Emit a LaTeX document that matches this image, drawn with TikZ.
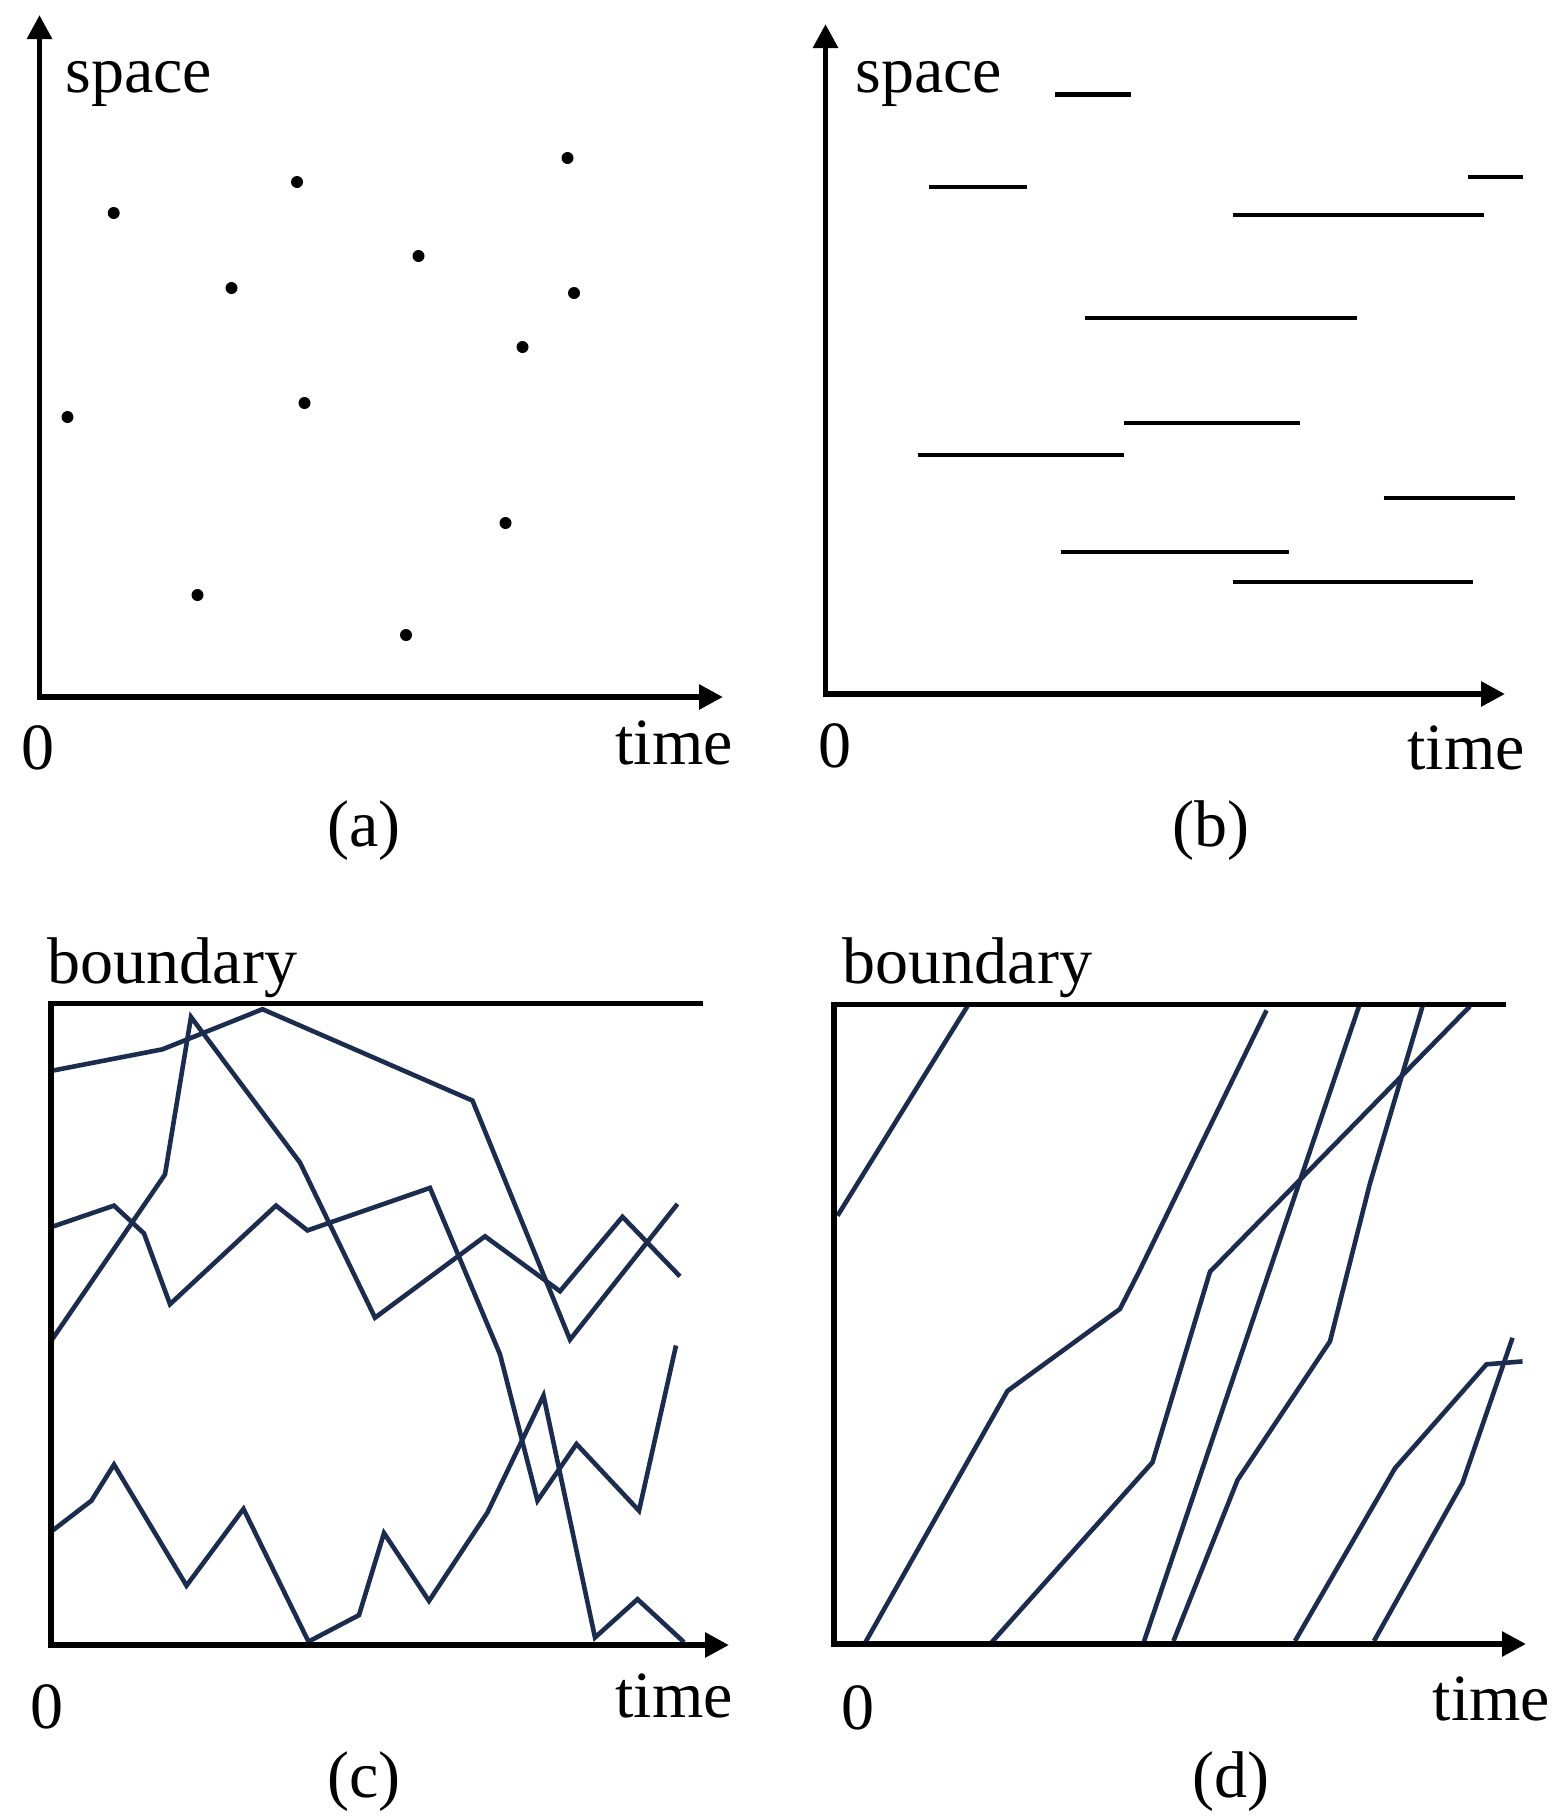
\documentclass[tikz,border=0pt]{standalone}
\usepackage{fontspec}
\setmainfont{Liberation Serif}
\usetikzlibrary{arrows.meta}
\definecolor{lineblue}{RGB}{27,44,78}
\tikzset{
  axisline/.style={draw=black, line width=2.9pt, line join=miter},
  axistip/.style={-{Triangle[length=12pt,width=12pt]}},
  axistips/.style={{Triangle[length=12pt,width=12pt]}-{Triangle[length=12pt,width=12pt]}},
  pathline/.style={draw=lineblue, line width=2.3pt, line join=miter, miter limit=4},
  segline/.style={draw=black, line width=2.35pt},
  event/.style={circle, fill=black, inner sep=0pt, minimum size=6pt},
  lbl/.style={inner sep=0pt, font=\fontsize{33}{40}\selectfont},
}
\begin{document}
\begin{tikzpicture}[x=0.5pt,y=-0.5pt]
\useasboundingbox (0,0) rectangle (1559,1820);
\fill[white] (0,0) rectangle (1559,1820);

% ---------- (a) ----------
\coordinate (aY) at (39.5,15);
\coordinate (aO) at (39.5,697);
\coordinate (aX) at (723,697);
\draw[axisline,axistips] (aY) -- (aO) -- (aX);
\node[lbl,anchor=base west] (aspace) at (65,92) {space};
\node[lbl,anchor=base] (azero) at (37.5,769) {0};
\node[lbl,anchor=base west] (atime) at (615,764) {time};
\node[lbl,anchor=base] (acap) at (364,846) {(a)};
\foreach \x/\y [count=\i] in {113.7/213, 297/182, 567.5/158, 231.5/288, 418.5/256, 574/293,
  522.5/347, 67.5/417, 304.5/403, 505.5/523, 197.5/595, 406/635}
  \node[event] (dot\i) at (\x,\y) {};

% ---------- (b) ----------
\coordinate (bY) at (825.5,24);
\coordinate (bO) at (825.5,694);
\coordinate (bX) at (1505,694);
\draw[axisline,axistips] (bY) -- (bO) -- (bX);
\node[lbl,anchor=base west] (bspace) at (855,92) {space};
\node[lbl,anchor=base] (bzero) at (835,767) {0};
\node[lbl,anchor=base west] (btime) at (1407,769) {time};
\node[lbl,anchor=base] (bcap) at (1211,846) {(b)};
\foreach \xa/\xb/\y [count=\i] in {1055/1130.5/94.3, 928.5/1027/187, 1468/1522.5/177,
  1232.5/1483.5/215, 1084.5/1356.5/318, 1123.5/1299.5/423, 917.5/1124/455,
  1383.5/1514.5/498, 1060.5/1289/552, 1232.5/1472.5/582}
{
  \coordinate (s\i a) at (\xa,\y);
  \coordinate (s\i b) at (\xb,\y);
  \draw[segline] (s\i a) -- (s\i b);
}

% ---------- (c) ----------
\coordinate (cB) at (702.5,1003.5);
\coordinate (cT) at (51,1003.5);
\coordinate (cO) at (51,1645);
\coordinate (cX) at (729,1645);
\node[lbl,anchor=base west] (cbound) at (47.5,983) {boundary};
\node[lbl,anchor=base] (czero) at (47.5,1728) {0};
\node[lbl,anchor=base west] (ctime) at (615,1717) {time};
\node[lbl,anchor=base] (ccap) at (364,1797) {(c)};
\draw[pathline] (50,1071.1) -- (162.5,1049.3) -- (262.5,1009.2) -- (472.5,1100.6)
  -- (570,1339.6) -- (677.5,1203.9);
\draw[pathline] (50,1342.5) -- (165,1174.4) -- (191,1017) -- (300,1162.6)
  -- (375,1317.7) -- (485,1236.3) -- (560,1291.2) -- (622.5,1216.8) -- (680,1276.4);
\draw[pathline] (50,1227.5) -- (114,1205.6) -- (144,1233.4) -- (170,1304.2)
  -- (276,1205.6) -- (307.5,1230.4) -- (430,1187.9) -- (500,1354.3)
  -- (537.5,1500.6) -- (576.5,1444) -- (639,1510.7) -- (676,1345.5);
\draw[pathline] (50,1532.5) -- (91.5,1500.6) -- (114,1464.6) -- (186.5,1585.6)
  -- (243.5,1508.9) -- (308.5,1641.6) -- (359,1615.1) -- (384,1533.1)
  -- (429,1600.9) -- (487.5,1512.4) -- (543.5,1395.6) -- (595,1637.5)
  -- (637.5,1599.2) -- (684,1642.2);
\draw[axisline,axistip] (cB) -- (cT) -- (cO) -- (cX);

% ---------- (d) ----------
\coordinate (dB) at (1506,1004.4);
\coordinate (dT) at (834,1004.4);
\coordinate (dO) at (834,1644);
\coordinate (dX) at (1526,1644);
\node[lbl,anchor=base west] (dbound) at (842.5,983) {boundary};
\node[lbl,anchor=base] (dzero) at (857.5,1729) {0};
\node[lbl,anchor=base west] (dtime) at (1432.5,1720) {time};
\node[lbl,anchor=base] (dcap) at (1231,1797) {(d)};
\draw[pathline] (837.5,1215.7) -- (968.5,1004.4);
\draw[pathline] (865,1643) -- (1007.5,1390.9) -- (1120,1308.9) -- (1139,1271.7)
  -- (1266.5,1010.3);
\draw[pathline] (991,1643) -- (1152.5,1462.3) -- (1210,1271.7) -- (1470,1006.2);
\draw[pathline] (1143.5,1643) -- (1359,1006.2);
\draw[pathline] (1173.5,1641) -- (1237.5,1480) -- (1330,1341.3) -- (1370,1183.2)
  -- (1422.5,1006.2);
\draw[pathline] (1295,1641) -- (1395,1468.2) -- (1486.5,1364.3) -- (1522.5,1361.4);
\draw[pathline] (1374,1641) -- (1462.5,1482.9) -- (1512.5,1337.8);
\draw[axisline,axistip] (dB) -- (dT) -- (dO) -- (dX);
\end{tikzpicture}
\end{document}
